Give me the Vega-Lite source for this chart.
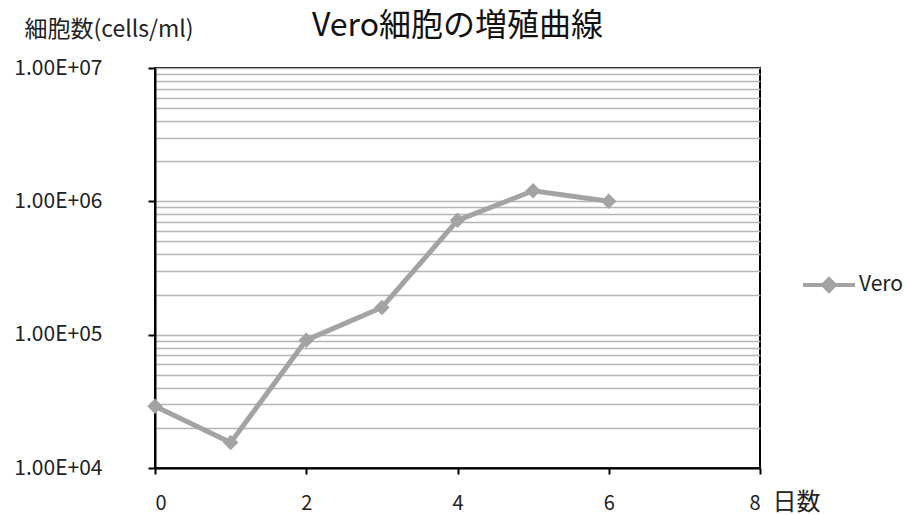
{
  "$schema": "https://vega.github.io/schema/vega-lite/v6.json",
  "autosize": "none",
  "width": 605,
  "height": 400,
  "padding": {"left": 155, "top": 68, "right": 149, "bottom": 47},
  "background": "white",
  "config": {
    "font": "Noto Sans CJK JP",
    "view": {"stroke": "black", "strokeWidth": 2}
  },
  "title": {
    "text": "Vero細胞の増殖曲線",
    "fontSize": 32,
    "fontWeight": "normal",
    "color": "#111",
    "anchor": "middle",
    "offset": -25
  },
  "data": {
    "values": [
      {"day": 0, "cells": 29000, "series": "Vero"},
      {"day": 1, "cells": 15500, "series": "Vero"},
      {"day": 2, "cells": 91000, "series": "Vero"},
      {"day": 3, "cells": 160000, "series": "Vero"},
      {"day": 4, "cells": 720000, "series": "Vero"},
      {"day": 5, "cells": 1200000, "series": "Vero"},
      {"day": 6, "cells": 1000000, "series": "Vero"}
    ]
  },
  "mark": {
    "type": "line",
    "strokeWidth": 5,
    "point": {"shape": "diamond", "size": 240, "filled": true, "color": "#a3a3a3"}
  },
  "encoding": {
    "x": {
      "field": "day",
      "type": "quantitative",
      "scale": {"domain": [0, 8], "nice": false},
      "axis": {
        "values": [0, 2, 4, 6, 8],
        "grid": false,
        "domainColor": "black",
        "domainWidth": 2,
        "tickColor": "black",
        "tickWidth": 2,
        "tickSize": 6,
        "labelFontSize": 20,
        "labelColor": "#222",
        "labelPadding": 19,
        "title": "日数",
        "titleFontSize": 24,
        "titleFontWeight": "normal",
        "titleColor": "#222",
        "titleAlign": "left",
        "titleBaseline": "middle",
        "titleX": 617,
        "titleY": 34
      }
    },
    "y": {
      "field": "cells",
      "type": "quantitative",
      "scale": {"type": "log", "domain": [10000, 10000000], "nice": false},
      "axis": {
        "values": [10000, 20000, 30000, 40000, 50000, 60000, 70000, 80000, 90000, 100000, 200000, 300000, 400000, 500000, 600000, 700000, 800000, 900000, 1000000, 2000000, 3000000, 4000000, 5000000, 6000000, 7000000, 8000000, 9000000, 10000000],
        "grid": true,
        "gridColor": "#b5b5b5",
        "gridWidth": 1.5,
        "domainColor": "black",
        "domainWidth": 2,
        "tickColor": {"condition": {"test": "abs(log(datum.value)/LN10 - round(log(datum.value)/LN10)) < 0.000001", "value": "black"}, "value": "transparent"},
        "tickWidth": 2,
        "tickSize": 7,
        "labelExpr": "abs(log(datum.value)/LN10 - round(log(datum.value)/LN10)) < 0.000001 ? '1.00E+0' + round(log(datum.value)/LN10) : ''",
        "labelFontSize": 21,
        "labelColor": "#222",
        "labelPadding": 46,
        "title": "細胞数(cells/ml)",
        "titleAngle": 0,
        "titleFontSize": 23,
        "titleFontWeight": "normal",
        "titleColor": "#222",
        "titleAlign": "left",
        "titleBaseline": "middle",
        "titleX": -131,
        "titleY": -39
      }
    },
    "color": {
      "field": "series",
      "type": "nominal",
      "scale": {"range": ["#a3a3a3"]},
      "legend": {
        "title": null,
        "orient": "none",
        "legendX": 660,
        "legendY": 203,
        "labelFontSize": 21,
        "labelColor": "#222",
        "symbolType": "M-2.2,0L2.2,0M0,-0.5L0.5,0L0,0.5L-0.5,0Z",
        "symbolSize": 560,
        "symbolStrokeWidth": 4,
        "symbolFillColor": "#a3a3a3",
        "symbolStrokeColor": "#a3a3a3",
        "labelOffset": 16
      }
    }
  }
}
